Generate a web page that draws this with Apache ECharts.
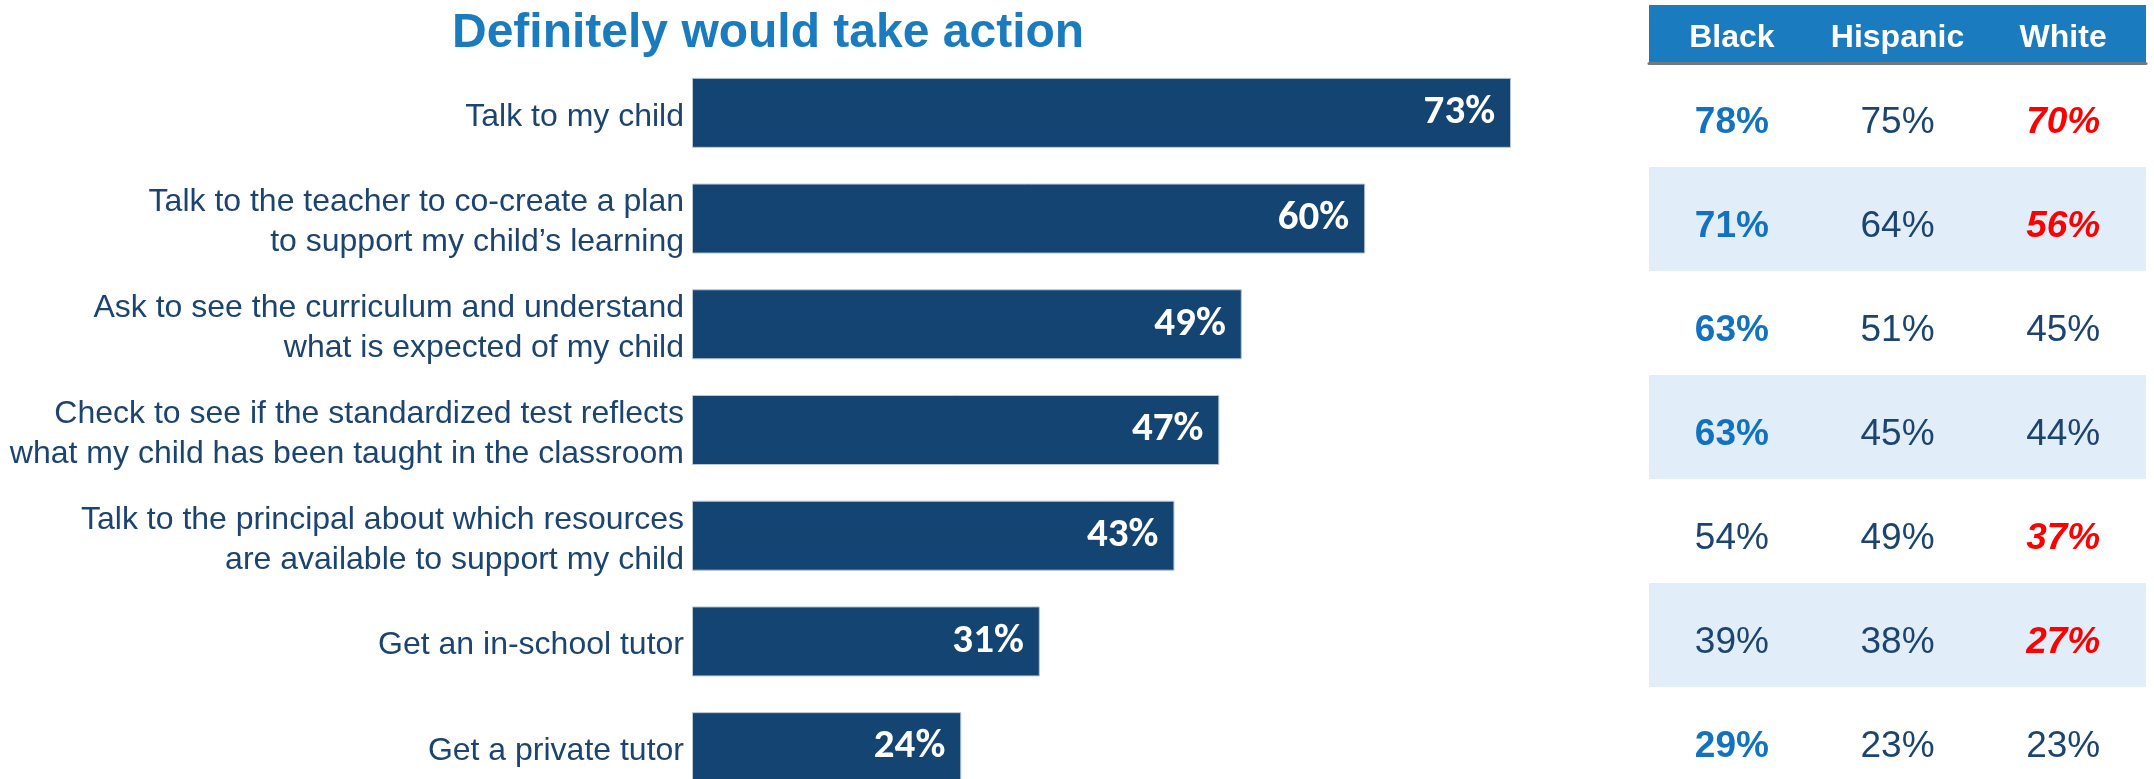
<!DOCTYPE html>
<html>
<head>
<meta charset="utf-8">
<script src="https://cdn.jsdelivr.net/npm/echarts@6/dist/echarts.min.js"></script>
<style>
  html, body { margin: 0; padding: 0; background: #ffffff; overflow: hidden; }
  #chart { width: 2154px; height: 840px; }
</style>
</head>
<body>
<div id="chart"></div>
<script>
// ---- Data ----
var chartTitle = 'Definitely would take action';
var actions = [
  'Talk to my child',
  'Talk to the teacher to co-create a plan\nto support my child\u2019s learning',
  'Ask to see the curriculum and understand\nwhat is expected of my child',
  'Check to see if the standardized test reflects\nwhat my child has been taught in the classroom',
  'Talk to the principal about which resources\nare available to support my child',
  'Get an in-school tutor',
  'Get a private tutor'
];
var overall = [73, 60, 49, 47, 43, 31, 24];
var groups = ['Black', 'Hispanic', 'White'];
var blackValues = [78, 71, 63, 63, 54, 39, 29];
var hispanicValues = [75, 64, 51, 45, 49, 38, 23];
var whiteValues = [70, 56, 45, 44, 37, 27, 23];
// markers: higher than total (blue bold) / lower than total (red italic)
var blackHigh = [true, true, true, true, false, false, true];
var whiteLow = [true, true, false, false, true, true, false];

// ---- Styles ----
var NAVY = '#1c4470';
var BAR = '#134472';
var BLUE = '#1a7bbf';
var BLUE_BOLD = '#1272bf';
var RED = '#ff0000';
var ARIAL = "'Liberation Sans', Arial, Helvetica, sans-serif";

function cellSeries(name, values, styleFn) {
  return {
    name: name,
    type: 'scatter',
    xAxisIndex: 1,
    yAxisIndex: 1,
    symbolSize: 1,
    itemStyle: { color: 'rgba(0,0,0,0)', opacity: 1 },
    silent: true,
    data: values.map(function (v, i) {
      return {
        value: [name, actions[i], v],
        label: styleFn(i)
      };
    }),
    label: {
      show: true,
      position: 'inside',
      offset: [0, 8],
      fontFamily: ARIAL,
      fontSize: 37,
      color: NAVY,
      opacity: 1,
      formatter: function (p) { return p.value[2] + '%'; }
    }
  };
}

var chart = echarts.init(document.getElementById('chart'), null, { renderer: 'canvas' });
chart.setOption({
  animation: false,
  backgroundColor: '#ffffff',
  title: {
    text: chartTitle,
    left: 452,
    top: 10,
    padding: 0,
    textStyle: { fontFamily: ARIAL, fontSize: 48, fontWeight: 'bold', color: BLUE }
  },
  graphic: [{
    type: 'rect',
    z: -1,
    shape: { x: 1649, y: 5, width: 497, height: 58 },
    style: { fill: BLUE }
  }],
  grid: [
    { left: 692, top: 60, width: 1122, height: 740, containLabel: false },
    { left: 1649, top: 63, width: 497, height: 728, containLabel: false }
  ],
  xAxis: [
    { type: 'value', gridIndex: 0, min: 0, max: 100, show: false },
    {
      type: 'category', gridIndex: 1, position: 'top', data: groups,
      axisLine: { show: true, lineStyle: { color: '#707880', width: 3 } },
      axisTick: { show: false },
      splitLine: { show: false },
      axisLabel: {
        interval: 0, hideOverlap: false,
        color: '#ffffff', fontFamily: ARIAL, fontSize: 32, fontWeight: 'bold',
        verticalAlign: 'middle', margin: 25
      }
    }
  ],
  yAxis: [
    {
      type: 'category', gridIndex: 0, inverse: true, data: actions,
      axisLine: { show: false }, axisTick: { show: false }, splitLine: { show: false },
      axisLabel: {
        interval: 0,
        color: NAVY, fontFamily: ARIAL, fontSize: 32, lineHeight: 40,
        margin: 8, align: 'right',
        formatter: function (v) { return '{s| }\n' + v; },
        rich: { s: { fontSize: 1, lineHeight: 8, height: 8 } }
      }
    },
    {
      type: 'category', gridIndex: 1, inverse: true, data: actions,
      axisLine: { show: false }, axisTick: { show: false },
      axisLabel: { show: false },
      splitLine: { show: false },
      splitArea: { show: true, interval: 0, areaStyle: { color: ['#ffffff', '#e1edf9'] } }
    }
  ],
  series: [
    {
      name: 'Total',
      type: 'bar',
      xAxisIndex: 0,
      yAxisIndex: 0,
      data: overall,
      barWidth: 70,
      itemStyle: { color: BAR, borderColor: '#b9c7d6', borderWidth: 1 },
      label: {
        show: true,
        position: 'insideRight',
        distance: 16,
        formatter: '{c}%',
        color: '#ffffff',
        fontFamily: "Carlito, Lato, 'Open Sans', sans-serif",
        fontWeight: 'bold',
        fontSize: 41
      }
    },
    cellSeries('Black', blackValues, function (i) {
      return blackHigh[i] ? { fontWeight: 'bold', color: BLUE_BOLD } : {};
    }),
    cellSeries('Hispanic', hispanicValues, function () { return {}; }),
    cellSeries('White', whiteValues, function (i) {
      return whiteLow[i] ? { fontWeight: 'bold', fontStyle: 'italic', color: RED } : {};
    })
  ]
});
</script>
</body>
</html>
